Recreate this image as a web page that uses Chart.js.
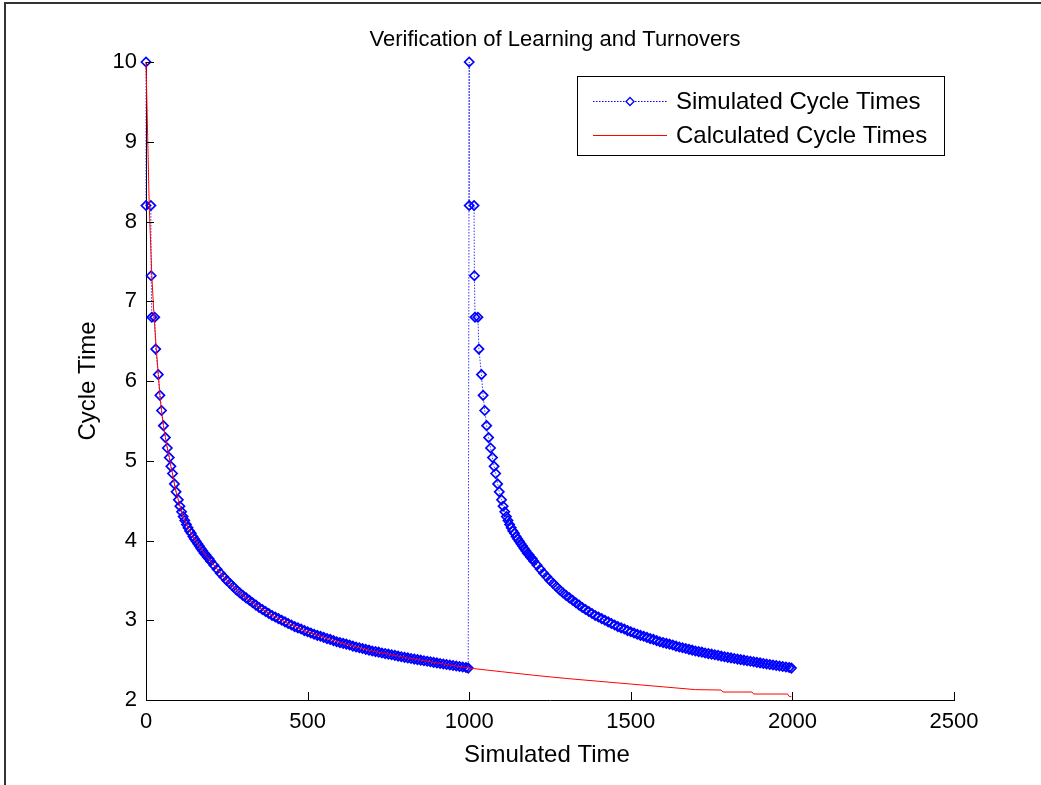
<!DOCTYPE html>
<html>
<head>
<meta charset="utf-8">
<script src="https://cdn.jsdelivr.net/npm/chart.js@4.4.0/dist/chart.umd.min.js"></script>
<style>
  html, body { margin: 0; padding: 0; background: #fff; }
  #wrap { position: relative; width: 1041px; height: 785px; }
</style>
</head>
<body>
<div id="wrap"><canvas id="c" width="1041" height="785"></canvas></div>
<script>
const TITLE = "Verification of Learning and Turnovers";
const X_TITLE = "Simulated Time";
const Y_TITLE = "Cycle Time";
const SERIES_NAMES = ["Simulated Cycle Times", "Calculated Cycle Times"];
const xTicks = [0, 500, 1000, 1500, 2000, 2500];
const yTicks = [2, 3, 4, 5, 6, 7, 8, 9, 10];

// Simulated cycle times, first worker
const sim1T = [0,0,15,16,18,27,30,38,43,48,54,60,66,72,77,82,88,93,100,
  105,110,115,120,125,130,135,140,145,150,155,160,165,170,175,180,185,190,195,200,
  210,220,230,240,250,260,270,280,290,300,310,320,330,340,350,360,370,380,390,400,
  410,420,430,440,450,460,470,480,490,500,510,520,530,540,550,560,570,580,590,600,
  610,620,630,640,650,660,670,680,690,700,710,720,730,740,750,760,770,780,790,800,
  810,820,830,840,850,860,870,880,890,900,910,920,930,940,950,960,970,980,990,997];
const sim1V = [10,8.2,8.2,7.32,6.8,6.8,6.4,6.08,5.82,5.63,5.44,5.29,5.16,5.04,4.93,4.84,4.71,4.61,4.51,
  4.43,4.36,4.30,4.25,4.20,4.16,4.12,4.09,4.05,4.02,3.99,3.96,3.93,3.90,3.87,3.84,3.82,3.79,3.77,3.74,
  3.69,3.64,3.59,3.545,3.50,3.46,3.42,3.38,3.345,3.31,3.28,3.25,3.22,3.19,3.16,3.135,3.11,3.085,3.06,3.04,
  3.02,3.00,2.98,2.96,2.94,2.92,2.905,2.89,2.87,2.855,2.84,2.825,2.81,2.80,2.785,2.77,2.76,2.745,2.73,2.72,
  2.71,2.70,2.69,2.675,2.665,2.655,2.645,2.635,2.625,2.615,2.607,2.60,2.59,2.582,2.575,2.567,2.56,2.55,2.543,2.535,
  2.528,2.52,2.513,2.506,2.50,2.493,2.486,2.479,2.472,2.465,2.458,2.452,2.445,2.439,2.432,2.426,2.42,2.413,2.407,2.40];

// Simulated cycle times, replacement worker after turnover
const sim2T = [1000,1000,1015,1016,1018,1027,1030,1038,1043,1048,1054,1060,1066,1072,1077,1082,1088,1093,1100,
  1105,1110,1115,1120,1125,1130,1135,1140,1145,1150,1155,1160,1165,1170,1175,1180,1185,1190,1195,1200,
  1210,1220,1230,1240,1250,1260,1270,1280,1290,1300,1310,1320,1330,1340,1350,1360,1370,1380,1390,1400,
  1410,1420,1430,1440,1450,1460,1470,1480,1490,1500,1510,1520,1530,1540,1550,1560,1570,1580,1590,1600,
  1610,1620,1630,1640,1650,1660,1670,1680,1690,1700,1710,1720,1730,1740,1750,1760,1770,1780,1790,1800,
  1810,1820,1830,1840,1850,1860,1870,1880,1890,1900,1910,1920,1930,1940,1950,1960,1970,1980,1990,1997];
const sim2V = [10,8.2,8.2,7.32,6.8,6.8,6.4,6.08,5.82,5.63,5.44,5.29,5.16,5.04,4.93,4.84,4.71,4.61,4.51,
  4.43,4.36,4.30,4.25,4.20,4.16,4.12,4.09,4.05,4.02,3.99,3.96,3.93,3.90,3.87,3.84,3.82,3.79,3.77,3.74,
  3.69,3.64,3.59,3.545,3.50,3.46,3.42,3.38,3.345,3.31,3.28,3.25,3.22,3.19,3.16,3.135,3.11,3.085,3.06,3.04,
  3.02,3.00,2.98,2.96,2.94,2.92,2.905,2.89,2.87,2.855,2.84,2.825,2.81,2.80,2.785,2.77,2.76,2.745,2.73,2.72,
  2.71,2.70,2.69,2.675,2.665,2.655,2.645,2.635,2.625,2.615,2.607,2.60,2.59,2.582,2.575,2.567,2.56,2.55,2.543,2.535,
  2.528,2.52,2.513,2.506,2.50,2.493,2.486,2.479,2.472,2.465,2.458,2.452,2.445,2.439,2.432,2.426,2.42,2.413,2.407,2.40];

// Calculated cycle times
const calcT = [0,10,18,25,32,38,43,48,54,60,66,72,77,82,88,93,100,110,120,130,140,150,160,170,180,190,200,
  225,250,275,300,350,400,450,500,600,700,800,900,1000,1100,1200,1300,1400,1500,1600,1700,1780,1785,1875,1880,1985,1990,1997];
const calcV = [10,8.2,7.32,6.8,6.4,6.08,5.82,5.63,5.44,5.29,5.16,5.04,4.93,4.84,4.71,4.61,4.51,4.36,4.25,4.16,4.09,4.02,3.96,3.90,3.84,3.79,3.74,
  3.62,3.50,3.40,3.31,3.16,3.04,2.94,2.855,2.72,2.615,2.535,2.465,2.40,2.355,2.31,2.27,2.235,2.20,2.165,2.13,2.125,2.10,2.10,2.075,2.075,2.045,2.04];

const FONT = '"Liberation Sans", Arial, Helvetica, sans-serif';
const BLUE = '#0000ff';
const RED = '#ff0000';

const simData = sim1T.map((t, i) => ({x: t, y: sim1V[i]}))
  .concat(sim2T.map((t, i) => ({x: t, y: sim2V[i]})));
const calcData = calcT.map((t, i) => ({x: t, y: calcV[i]}));

const deco = {
  id: 'deco',
  afterDraw(chart) {
    const {ctx, chartArea: a, scales: {x, y}} = chart;
    ctx.save();
    // outer figure frame
    ctx.strokeStyle = '#333';
    ctx.lineWidth = 2;
    ctx.beginPath();
    ctx.moveTo(5, 785); ctx.lineTo(5, 3); ctx.lineTo(1041, 3);
    ctx.stroke();
    // inward ticks
    ctx.strokeStyle = '#000';
    ctx.lineWidth = 1;
    ctx.beginPath();
    xTicks.forEach(v => {
      const px = Math.round(x.getPixelForValue(v)) + 0.5;
      ctx.moveTo(px, a.bottom); ctx.lineTo(px, a.bottom - 8);
    });
    yTicks.forEach(v => {
      const py = Math.round(y.getPixelForValue(v)) + 0.5;
      ctx.moveTo(a.left, py); ctx.lineTo(a.left + 8, py);
    });
    ctx.stroke();
    // titles
    ctx.fillStyle = '#000';
    ctx.textAlign = 'center';
    ctx.textBaseline = 'middle';
    ctx.font = '22px ' + FONT;
    ctx.fillText(TITLE, 555, 40);
    ctx.font = '24px ' + FONT;
    ctx.fillText(X_TITLE, 547, 755);
    ctx.save();
    ctx.translate(88, (a.top + a.bottom) / 2);
    ctx.rotate(-Math.PI / 2);
    ctx.fillText(Y_TITLE, 0, 0);
    ctx.restore();
    // legend
    const lx = 577.5, ly = 76.5, lw = 367, lh = 79;
    ctx.fillStyle = '#fff';
    ctx.fillRect(lx, ly, lw, lh);
    ctx.strokeStyle = '#000';
    ctx.lineWidth = 1;
    ctx.strokeRect(lx, ly, lw, lh);
    // entry 1
    ctx.strokeStyle = BLUE;
    ctx.lineWidth = 1;
    ctx.setLineDash([1.5, 1.5]);
    ctx.beginPath(); ctx.moveTo(593, 101.5); ctx.lineTo(667, 101.5); ctx.stroke();
    ctx.setLineDash([]);
    ctx.lineWidth = 1.3;
    ctx.beginPath();
    ctx.moveTo(630, 97.5); ctx.lineTo(634, 101.5); ctx.lineTo(630, 105.5); ctx.lineTo(626, 101.5); ctx.closePath();
    ctx.fillStyle = '#fff'; ctx.fill(); ctx.stroke();
    // entry 2
    ctx.lineWidth = 1;
    ctx.strokeStyle = RED;
    ctx.beginPath(); ctx.moveTo(593, 135.5); ctx.lineTo(667, 135.5); ctx.stroke();
    ctx.fillStyle = '#000';
    ctx.textAlign = 'left';
    ctx.font = '24px ' + FONT;
    ctx.fillText(SERIES_NAMES[0], 676, 102);
    ctx.fillText(SERIES_NAMES[1], 676, 136);
    ctx.restore();
  }
};

new Chart(document.getElementById('c'), {
  type: 'scatter',
  data: {
    datasets: [
      {
        label: SERIES_NAMES[1],
        data: calcData,
        showLine: true,
        borderColor: RED,
        borderWidth: 1,
        pointRadius: 0,
        pointHoverRadius: 0,
        clip: false,
        order: 0
      },
      {
        label: SERIES_NAMES[0],
        data: simData,
        showLine: true,
        borderColor: BLUE,
        borderWidth: 0.8,
        borderDash: [1.5, 1.5],
        pointStyle: 'rectRot',
        pointRadius: 4.6,
        pointBorderColor: BLUE,
        pointBackgroundColor: 'rgba(255,255,255,0)',
        pointBorderWidth: 1.7,
        clip: false,
        order: 1
      }
    ]
  },
  options: {
    responsive: false,
    animation: false,
    devicePixelRatio: 1,
    layout: { padding: { top: 62, right: 87, left: 0, bottom: 0 } },
    plugins: {
      legend: { display: false },
      title: { display: false },
      tooltip: { enabled: false }
    },
    scales: {
      x: {
        type: 'linear',
        min: 0, max: 2500,
        afterFit: s => { s.height = 85; },
        afterBuildTicks: s => { s.ticks = xTicks.map(v => ({value: v})); },
        grid: { display: false, drawTicks: false },
        border: { display: true, color: '#000', width: 1 },
        ticks: { color: '#000', font: { size: 22, family: FONT }, padding: 9, maxRotation: 0,
                 callback: v => String(v) }
      },
      y: {
        type: 'linear',
        min: 2, max: 10,
        afterFit: s => { s.width = 146; },
        afterBuildTicks: s => { s.ticks = yTicks.map(v => ({value: v})); },
        grid: { display: false, drawTicks: false },
        border: { display: true, color: '#000', width: 1 },
        ticks: { color: '#000', font: { size: 22, family: FONT }, padding: 9,
                 callback: v => String(v) }
      }
    }
  },
  plugins: [deco]
});
</script>
</body>
</html>
